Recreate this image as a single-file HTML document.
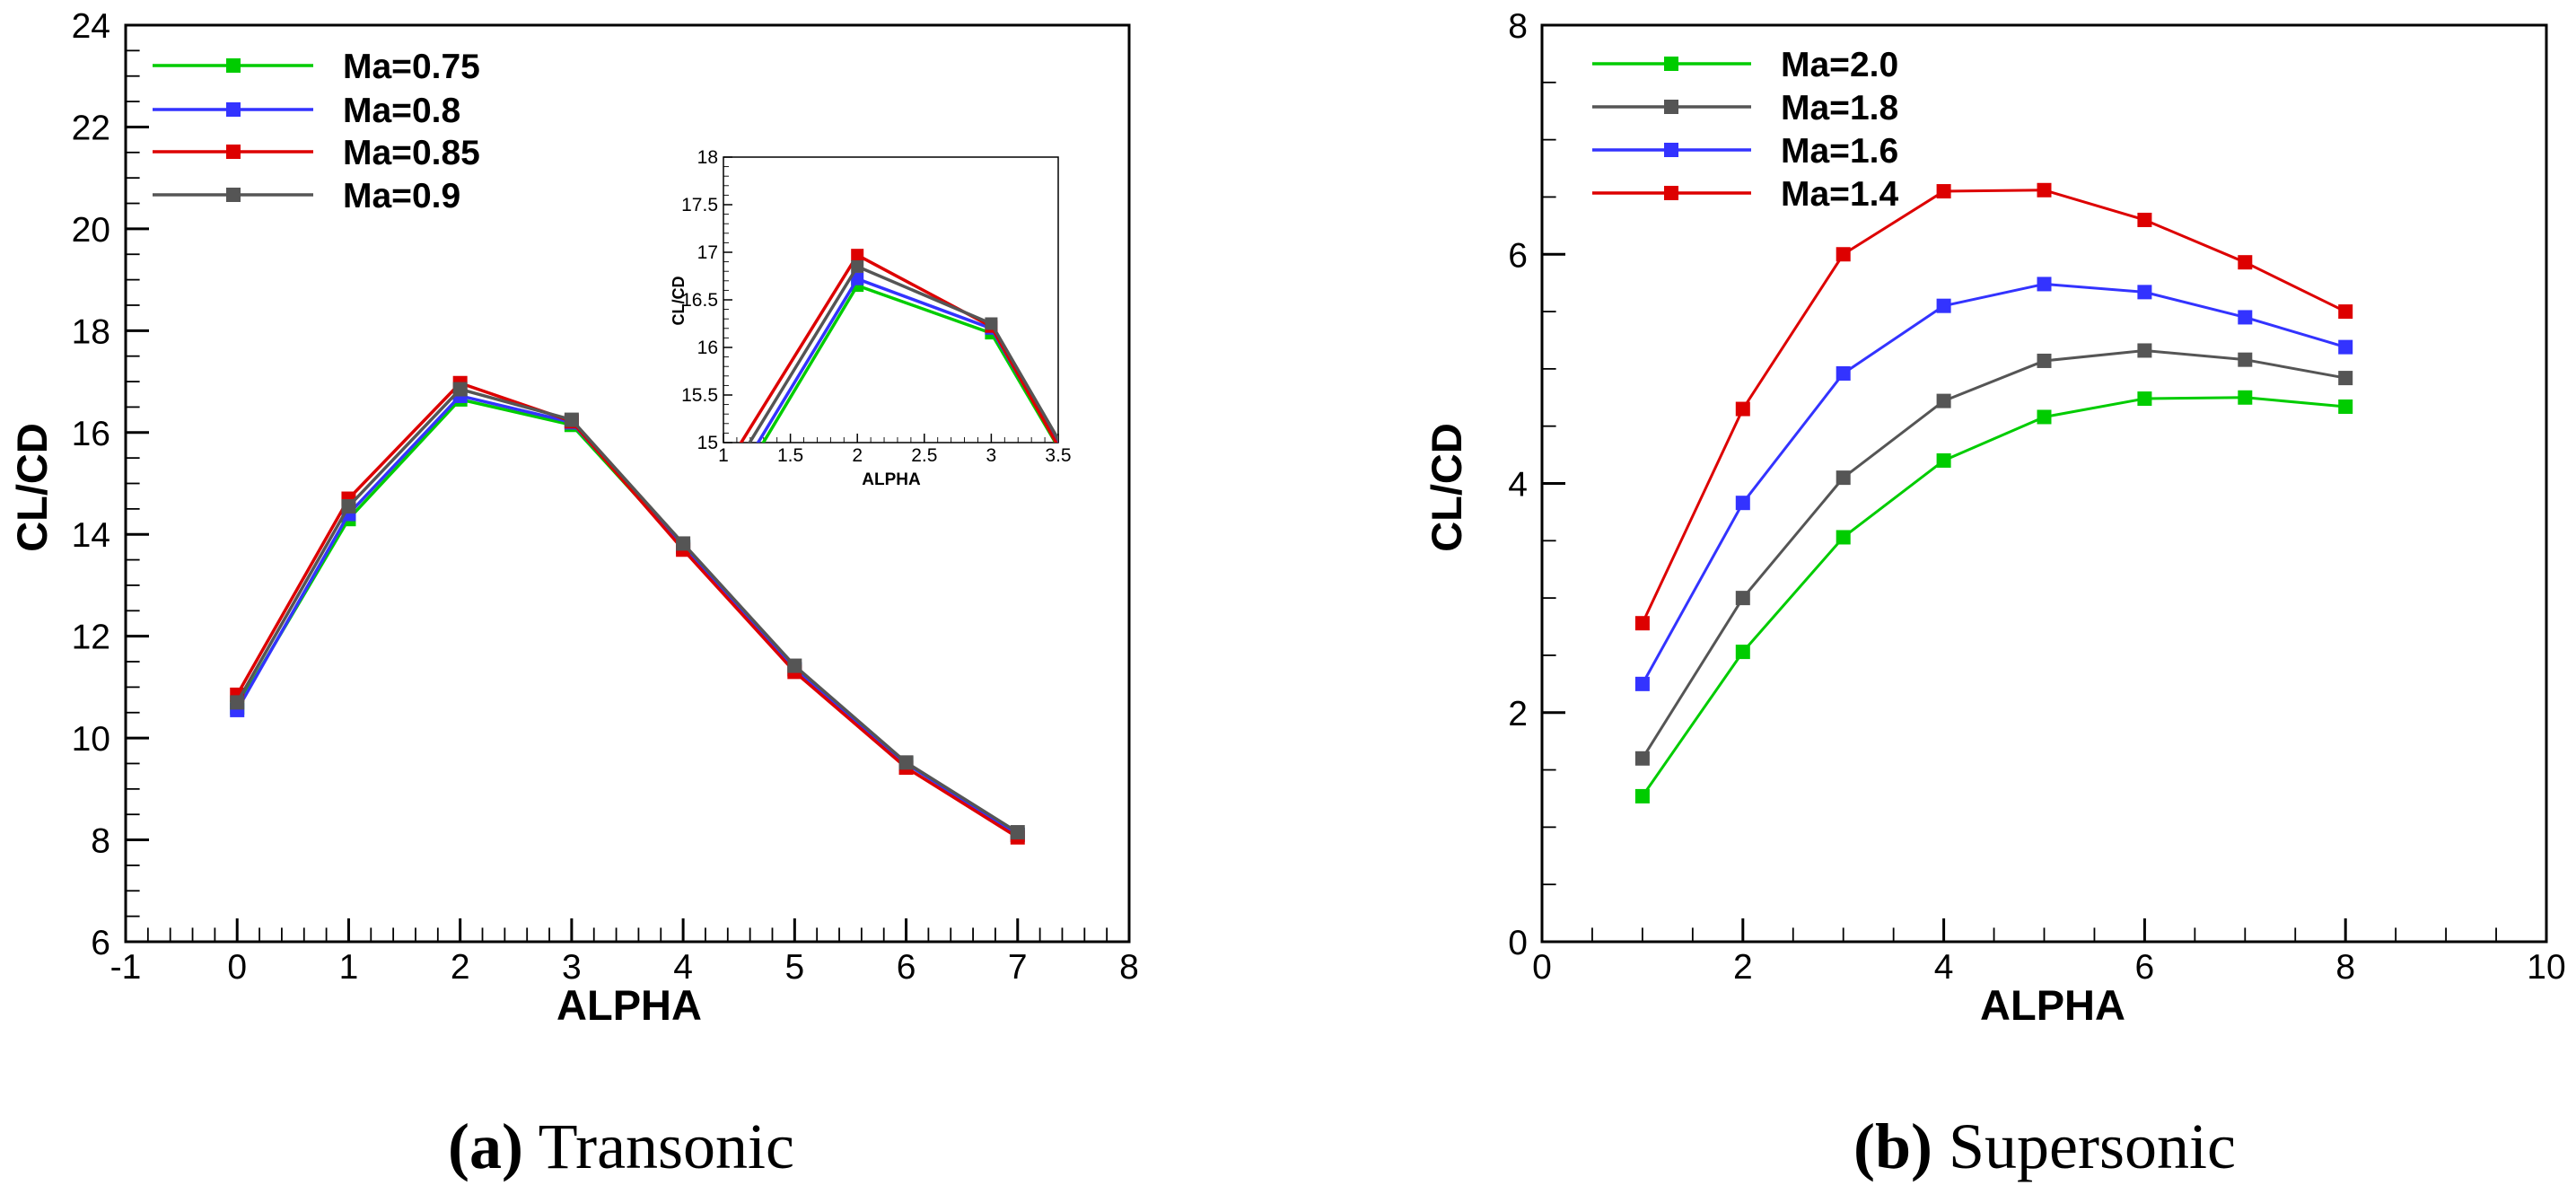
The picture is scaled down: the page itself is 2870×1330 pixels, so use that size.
<!DOCTYPE html>
<html><head><meta charset="utf-8"><style>
html,body{margin:0;padding:0;background:#fff;}
svg{display:block;font-family:"Liberation Sans",Arial,sans-serif;}
</style></head><body>
<svg id="fig" width="2870" height="1330" viewBox="0 0 2870 1330" xmlns="http://www.w3.org/2000/svg">
<defs><clipPath id="insetClip"><rect x="806" y="175" width="373" height="318"/></clipPath></defs>
<g id="root"></g>
<text x="692" y="1301" font-family="Liberation Serif,serif" font-size="72" text-anchor="middle"><tspan font-weight="bold">(a)</tspan> Transonic</text>
<text x="2278" y="1301" font-family="Liberation Serif,serif" font-size="72" text-anchor="middle"><tspan font-weight="bold">(b)</tspan> Supersonic</text>
</svg>
<script>
const alphaA = [0,1,2,3,4,5,6,7];
const ma075 = [10.6,14.3,16.65,16.15,13.75,11.35,9.5,8.1];
const ma080 = [10.55,14.4,16.72,16.2,13.75,11.35,9.5,8.1];
const ma085 = [10.85,14.7,16.97,16.22,13.7,11.3,9.42,8.05];
const ma090 = [10.7,14.55,16.85,16.25,13.82,11.42,9.52,8.15];
const labelsA = ["Ma=0.75","Ma=0.8","Ma=0.85","Ma=0.9"];
const xTicksA = [-1,0,1,2,3,4,5,6,7,8];
const yTicksA = [6,8,10,12,14,16,18,20,22,24];
const xTicksIn = ["1","1.5","2","2.5","3","3.5"];
const yTicksIn = ["15","15.5","16","16.5","17","17.5","18"];
const alphaB = [1,2,3,4,5,6,7,8];
const ma20 = [1.27,2.53,3.53,4.2,4.58,4.74,4.75,4.67];
const ma18 = [1.6,3.0,4.05,4.72,5.07,5.16,5.08,4.92];
const ma16 = [2.25,3.83,4.96,5.55,5.74,5.67,5.45,5.19];
const ma14 = [2.78,4.65,6.0,6.55,6.56,6.3,5.93,5.5];
const labelsB = ["Ma=2.0","Ma=1.8","Ma=1.6","Ma=1.4"];
const xTicksB = [0,2,4,6,8,10];
const yTicksB = [0,2,4,6,8];

const G="#00cc00",B="#3333ff",R="#dd0000",K="#555555";
const NS="http://www.w3.org/2000/svg";
const root=document.getElementById('root');
function mk(tag,attrs,parent,name){const e=document.createElementNS(NS,tag);for(const k in attrs)e.setAttribute(k,attrs[k]);(parent||root).appendChild(e);


return e;}
function txt(s,attrs,name){const t=mk('text',attrs,root,name);t.textContent=s;return t;}

function axes(o){
  const sx=v=>o.x0+(v-o.xmin)/(o.xmax-o.xmin)*(o.x1-o.x0);
  const sy=v=>o.y1-(v-o.ymin)/(o.ymax-o.ymin)*(o.y1-o.y0);
  return {sx,sy};
}
function drawFrame(o,name){
  const {sx,sy}=axes(o);
  mk('rect',{x:o.x0,y:o.y0,width:o.x1-o.x0,height:o.y1-o.y0,fill:'none',stroke:'#000','stroke-width':o.sw},root,name+'-frame');
  const nx=Math.round((o.xmax-o.xmin)/o.xminor);
  for(let i=0;i<=nx;i++){const v=o.xmin+i*o.xminor;const maj=Math.abs(v/o.xmajor-Math.round(v/o.xmajor))<1e-6;
    mk('line',{x1:sx(v),x2:sx(v),y1:o.y1,y2:o.y1-(maj?o.tl:o.tl*0.6),stroke:'#000','stroke-width':maj?o.sw:o.sw*0.6},root,name+'-x-tick');}
  const ny=Math.round((o.ymax-o.ymin)/o.yminor);
  for(let i=0;i<=ny;i++){const v=o.ymin+i*o.yminor;const maj=Math.abs(v/o.ymajor-Math.round(v/o.ymajor))<1e-6;
    mk('line',{x1:o.x0,x2:o.x0+(maj?o.tl:o.tl*0.6),y1:sy(v),y2:sy(v),stroke:'#000','stroke-width':maj?o.sw:o.sw*0.6},root,name+'-y-tick');}
  return {sx,sy};
}
function series(sx,sy,xs,ys,col,name,ms,sw,clip){
  const g=mk('g',clip?{'clip-path':'url(#insetClip)'}:{},root,name);
  mk('polyline',{points:xs.map((x,i)=>sx(x)+','+sy(ys[i])).join(' '),fill:'none',stroke:col,'stroke-width':sw,'stroke-linejoin':'round'},g,name+'-line');
  xs.forEach((x,i)=>{mk('rect',{x:sx(x)-ms/2,y:sy(ys[i])-ms/2,width:ms,height:ms,fill:col},g,name+'-point');});
}
function legend(x0,x1,xm,xt,ys,cols,labels,name){
  labels.forEach((l,i)=>{
    mk('line',{x1:x0,x2:x1,y1:ys[i],y2:ys[i],stroke:cols[i],'stroke-width':3.5},root,name+'-line');
    mk('rect',{x:xm-8,y:ys[i]-8,width:16,height:16,fill:cols[i]},root,name+'-marker');
    txt(l,{x:xt,y:ys[i]+14,'font-size':39,'font-weight':'bold'},name+'-label');
  });
}

// Chart A
const oA={x0:140,x1:1258,y0:28,y1:1049,xmin:-1,xmax:8,ymin:6,ymax:24,xminor:0.2,xmajor:1,yminor:0.5,ymajor:2,tl:26,sw:3};
const A=drawFrame(oA,'chart-a');
xTicksA.forEach(v=>txt(String(v),{x:A.sx(v),y:1090,'font-size':39,'text-anchor':'middle'},'chart-a-x-tick-label'));
yTicksA.forEach(v=>txt(String(v),{x:123,y:A.sy(v)+14,'font-size':39,'text-anchor':'end'},'chart-a-y-tick-label'));
txt('ALPHA',{x:701,y:1136,'font-size':47,'font-weight':'bold','text-anchor':'middle'},'chart-a-x-axis-title');
txt('CL/CD',{x:52,y:543,'font-size':47,'font-weight':'bold','text-anchor':'middle',transform:'rotate(-90 52 543)'},'chart-a-y-axis-title');
series(A.sx,A.sy,alphaA,ma075,G,'series-ma-0.75',16,3.5);
series(A.sx,A.sy,alphaA,ma080,B,'series-ma-0.8',16,3.5);
series(A.sx,A.sy,alphaA,ma085,R,'series-ma-0.85',16,3.5);
series(A.sx,A.sy,alphaA,ma090,K,'series-ma-0.9',16,3.5);
legend(170,349,260,382,[73,122,169,217],[G,B,R,K],labelsA,'chart-a-legend');

// Inset
const oI={x0:806,x1:1179,y0:175,y1:493,xmin:1,xmax:3.5,ymin:15,ymax:18,xminor:0.1,xmajor:0.5,yminor:0.1,ymajor:0.5,tl:10,sw:1.5};
mk('rect',{x:806,y:175,width:373,height:318,fill:'#fff'},root,'inset-background');
const I=drawFrame(oI,'inset');
xTicksIn.forEach(v=>txt(v,{x:I.sx(+v),y:514,'font-size':21,'text-anchor':'middle'},'inset-x-tick-label'));
yTicksIn.forEach(v=>txt(v,{x:800,y:I.sy(+v)+7,'font-size':21,'text-anchor':'end'},'inset-y-tick-label'));
txt('ALPHA',{x:993,y:540,'font-size':19,'font-weight':'bold','text-anchor':'middle'},'inset-x-axis-title');
txt('CL/CD',{x:762,y:335,'font-size':18,'font-weight':'bold','text-anchor':'middle',transform:'rotate(-90 762 335)'},'inset-y-axis-title');
series(I.sx,I.sy,alphaA,ma075,G,'inset-series-ma-0.75',14,3.5,true);
series(I.sx,I.sy,alphaA,ma080,B,'inset-series-ma-0.8',14,3.5,true);
series(I.sx,I.sy,alphaA,ma085,R,'inset-series-ma-0.85',14,3.5,true);
series(I.sx,I.sy,alphaA,ma090,K,'inset-series-ma-0.9',14,3.5,true);

// Chart B
const oB={x0:1718,x1:2837,y0:28,y1:1049,xmin:0,xmax:10,ymin:0,ymax:8,xminor:0.5,xmajor:2,yminor:0.5,ymajor:2,tl:26,sw:3};
const Bc=drawFrame(oB,'chart-b');
xTicksB.forEach(v=>txt(String(v),{x:Bc.sx(v),y:1090,'font-size':39,'text-anchor':'middle'},'chart-b-x-tick-label'));
yTicksB.forEach(v=>txt(String(v),{x:1702,y:Bc.sy(v)+14,'font-size':39,'text-anchor':'end'},'chart-b-y-tick-label'));
txt('ALPHA',{x:2287,y:1136,'font-size':47,'font-weight':'bold','text-anchor':'middle'},'chart-b-x-axis-title');
txt('CL/CD',{x:1628,y:543,'font-size':47,'font-weight':'bold','text-anchor':'middle',transform:'rotate(-90 1628 543)'},'chart-b-y-axis-title');
series(Bc.sx,Bc.sy,alphaB,ma20,G,'series-ma-2.0',16,3);
series(Bc.sx,Bc.sy,alphaB,ma18,K,'series-ma-1.8',16,3);
series(Bc.sx,Bc.sy,alphaB,ma16,B,'series-ma-1.6',16,3);
series(Bc.sx,Bc.sy,alphaB,ma14,R,'series-ma-1.4',16,3);
legend(1774,1951,1862,1984,[71,119,167,215],[G,K,B,R],labelsB,'chart-b-legend');
</script>
</body></html>
